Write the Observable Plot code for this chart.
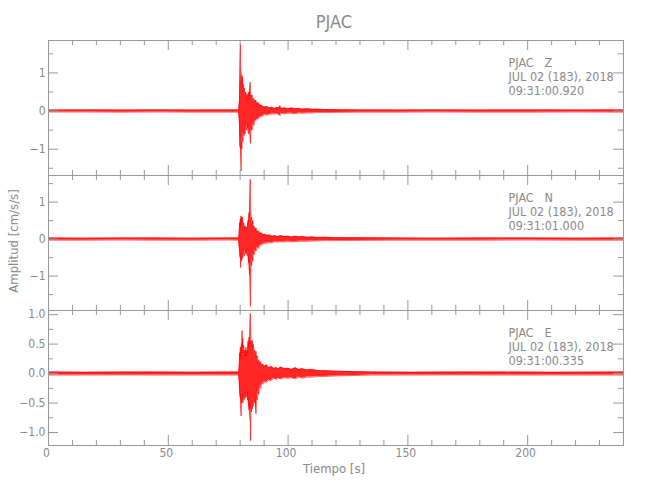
<!DOCTYPE html>
<html>
<head>
<meta charset="utf-8">
<script src="https://cdn.jsdelivr.net/npm/d3@7"></script>
<script src="https://cdn.jsdelivr.net/npm/@observablehq/plot@0.6"></script>
<style>
  body { margin: 0; background: #fff; }
  #chart { position: relative; width: 650px; height: 500px; overflow: hidden;
    font-family: "Liberation Sans Narrow", "DejaVu Sans Condensed", "Liberation Sans", sans-serif;
    font-stretch: condensed; color: #8a8a8a; }
  #chart svg { position: absolute; left: 0; }
  .lbl { position: absolute; white-space: nowrap; color: #8a8a8a; }
</style>
</head>
<body>
<div id="chart"></div>
<script>
// ---------------- data ----------------
const station = "PJAC";
const xLabel = "Tiempo [s]";
const yLabel = "Amplitud [cm/s/s]";
const xMajor = [0, 50, 100, 150, 200];
const xMinor = [10, 20, 30, 40, 60, 70, 80, 90, 110, 120, 130, 140, 160, 170, 180, 190, 210, 220, 230];

// Signal envelope rows: [time (s), upper amplitude, lower amplitude]
const waveZ = [
  [0, .025, -.025], [15, .03, -.025], [30, .025, -.03], [45, .03, -.025], [60, .025, -.03], [75, .03, -.03],
  [79.4, .03, -.03], [79.7, .25, -.3], [79.9, .9, -.95], [80.1, 1.76, -.9], [80.2, 1.2, -1.0], [80.4, 1.0, -1.57],
  [80.55, .7, -.8], [80.7, .95, -1.0], [80.85, .6, -.7], [81.0, .9, -.75], [81.2, .5, -.8], [81.4, .7, -.5],
  [81.6, .45, -.65], [81.8, .6, -.45], [82.0, .4, -.6], [82.3, .5, -.4], [82.6, .35, -.5], [82.9, .45, -.35],
  [83.2, .3, -.45], [83.5, .5, -.6], [83.8, .4, -.45], [84.0, .55, -.55], [84.15, .76, -.6], [84.3, .55, -.85],
  [84.5, .45, -.55], [84.75, .38, -.45], [85.0, .42, -.5], [85.3, .3, -.35], [85.7, .33, -.38], [86.1, .25, -.28],
  [86.6, .28, -.25], [87.1, .2, -.22], [87.6, .22, -.2], [88.2, .15, -.17], [88.8, .16, -.14], [89.5, .12, -.13],
  [90.3, .1, -.09], [91.2, .12, -.11], [92.2, .08, -.09], [93.2, .1, -.08], [94.3, .07, -.08], [95.3, .09, -.07],
  [96.2, .08, -.09], [96.6, .14, -.12], [97.2, .07, -.06], [98.5, .08, -.07], [100, .06, -.06], [101.5, .08, -.06],
  [103, .06, -.07], [104.5, .07, -.05], [106, .05, -.06], [108, .06, -.05], [110, .045, -.05], [112, .05, -.04],
  [115, .04, -.04], [120, .035, -.035], [130, .03, -.03], [145, .025, -.03], [160, .03, -.025], [180, .025, -.03],
  [200, .03, -.03], [220, .025, -.025], [240, .03, -.03]
];
const waveN = [
  [0, .03, -.03], [15, .025, -.03], [30, .03, -.025], [45, .03, -.03], [60, .025, -.03], [75, .03, -.025],
  [79.4, .03, -.03], [79.6, .15, -.2], [79.8, .45, -.35], [79.95, .3, -.5], [80.1, .55, -.4], [80.2, .4, -.77],
  [80.35, .63, -.5], [80.5, .45, -.6], [80.65, .6, -.45], [80.8, .4, -.55], [81.0, .6, -.4], [81.2, .35, -.5],
  [81.5, .45, -.35], [81.8, .3, -.45], [82.1, .36, -.3], [82.4, .25, -.4], [82.7, .33, -.3], [83.0, .3, -.45],
  [83.3, .5, -.4], [83.5, .45, -.65], [83.7, .72, -.6], [83.9, .6, -.95], [84.05, .9, -.8], [84.2, 1.62, -1.3],
  [84.3, 1.1, -1.82], [84.45, .8, -1.0], [84.6, .5, -.6], [84.8, .6, -.72], [85.0, .4, -.5], [85.3, .5, -.6],
  [85.6, .3, -.35], [85.9, .35, -.42], [86.3, .25, -.3], [86.7, .3, -.32], [87.2, .2, -.22], [87.7, .22, -.25],
  [88.3, .15, -.17], [88.9, .17, -.16], [89.6, .12, -.13], [90.4, .13, -.11], [91.3, .1, -.11], [92.3, .11, -.09],
  [93.3, .08, -.1], [94.5, .09, -.07], [95.5, .07, -.08], [97, .09, -.07], [98.5, .07, -.08], [100, .08, -.06],
  [101.5, .06, -.07], [103, .08, -.07], [104.5, .06, -.06], [106, .07, -.06], [108, .05, -.06], [110, .06, -.05],
  [112, .045, -.05], [115, .05, -.04], [120, .04, -.04], [130, .035, -.035], [145, .03, -.03], [160, .025, -.03],
  [180, .03, -.03], [200, .03, -.025], [220, .025, -.03], [240, .03, -.03]
];
const waveE = [
  [0, .025, -.025], [15, .022, -.025], [30, .025, -.022], [45, .025, -.025], [60, .022, -.025], [75, .025, -.025],
  [79.4, .025, -.025], [79.6, .1, -.12], [79.8, .35, -.3], [79.95, .25, -.4], [80.1, .45, -.35], [80.25, .3, -.5],
  [80.4, .4, -.72], [80.55, .5, -.4], [80.7, .35, -.5], [80.8, .73, -.45], [80.95, .45, -.35], [81.1, .6, -.5],
  [81.3, .35, -.42], [81.5, .48, -.35], [81.7, .3, -.45], [81.9, .4, -.3], [82.1, .3, -.42], [82.4, .45, -.35],
  [82.7, .3, -.4], [82.9, .4, -.3], [83.1, .35, -.45], [83.3, .55, -.4], [83.5, .45, -.55], [83.7, .62, -.62],
  [83.9, .5, -.5], [84.05, .6, -.7], [84.25, 1.02, -.8], [84.35, .8, -1.14], [84.5, .5, -.55], [84.7, .56, -.65],
  [84.9, .45, -.5], [85.1, .56, -.6], [85.3, .4, -.45], [85.5, .5, -.55], [85.8, .35, -.4], [86.0, .4, -.5],
  [86.3, .3, -.45], [86.6, .38, -.68], [86.9, .28, -.4], [87.2, .3, -.45], [87.5, .2, -.3], [87.8, .23, -.35],
  [88.2, .17, -.22], [88.6, .2, -.25], [89.0, .14, -.16], [89.5, .16, -.18], [90.2, .12, -.13], [91, .15, -.15],
  [92, .1, -.11], [93, .12, -.12], [94, .09, -.08], [95, .1, -.1], [96, .08, -.08], [97, .11, -.09],
  [98.5, .08, -.07], [100, .09, -.08], [101.5, .07, -.07], [103, .1, -.09], [104.5, .07, -.06], [106, .08, -.08],
  [108, .06, -.06], [110, .07, -.06], [112.5, .05, -.05], [115, .05, -.05], [120, .04, -.04], [125, .035, -.035],
  [135, .025, -.025], [150, .022, -.025], [170, .025, -.022], [190, .025, -.025], [210, .022, -.025], [240, .025, -.025]
];

const panelInfo = [
  ["PJAC   Z", "JUL 02 (183), 2018", "09:31:00.920"],
  ["PJAC   N", "JUL 02 (183), 2018", "09:31:01.000"],
  ["PJAC   E", "JUL 02 (183), 2018", "09:31:00.335"]
];
const yDomains = [[-1.69, 1.85], [-1.93, 1.72], [-1.22, 1.07]];
const yMajors = [[-1, 0, 1], [-1, 0, 1], [-1, -0.5, 0, 0.5, 1]];
const yMinors = [[-1.5, -0.5, 0.5, 1.5], [-1.5, -0.5, 0.5, 1.5], [-0.75, -0.25, 0.25, 0.75]];
const yFormats = [d3.format("d"), d3.format("d"), d3.format(".1f")];

// ---------------- drawing ----------------
const FONT = '"Liberation Sans Narrow", "DejaVu Sans Condensed", "Liberation Sans", sans-serif';
const AX = "#999", TX = "#8a8a8a";
const PT = 40, PH = 135, ML = 48, MR = 27, PW = 650 - ML - MR;
const series = [waveZ, waveN, waveE];
const chart = document.getElementById("chart");

series.forEach((rows, i) => {
  const last = i === 2;
  const data = rows.map(([t, hi, lo]) => ({t, hi, lo}));
  const mt = 6, mb = last ? 40 : 6;
  const marks = [
    Plot.areaY(data, {x: "t", y1: "lo", y2: "hi", fill: "#ff0000", fillOpacity: 0.85, curve: "linear"}),
    Plot.line(data, {x: "t", y: "hi", stroke: "#ff0000", strokeWidth: 0.6}),
    Plot.line(data, {x: "t", y: "lo", stroke: "#ff0000", strokeWidth: 0.6}),
    Plot.frame({stroke: AX}),
    Plot.ruleX(xMajor.slice(1), {insetBottom: PH - 10, stroke: AX}),
    Plot.ruleX(xMajor.slice(1), {insetTop: PH - 10, stroke: AX}),
    Plot.ruleX(xMinor, {insetBottom: PH - 5, stroke: AX}),
    Plot.ruleX(xMinor, {insetTop: PH - 5, stroke: AX}),
    Plot.ruleY(yMajors[i], {insetRight: PW - 10, stroke: AX}),
    Plot.ruleY(yMajors[i], {insetLeft: PW - 10, stroke: AX}),
    Plot.ruleY(yMinors[i], {insetRight: PW - 5, stroke: AX}),
    Plot.ruleY(yMinors[i], {insetLeft: PW - 5, stroke: AX}),
    Plot.axisY(yMajors[i], {tickSize: 0, tickPadding: 3, tickFormat: yFormats[i], label: null, fill: TX, fontSize: 12}),
    Plot.text([panelInfo[i].join("\n")], {frameAnchor: "top-left", dx: 460, dy: 17, lineAnchor: "top",
      lineHeight: 1.12, textAnchor: "start", fill: TX, fontSize: 12.5})
  ];
  if (last) marks.push(Plot.axisX(xMajor, {tickSize: 0, tickPadding: 3, label: null, fill: TX, fontSize: 12, dx: -2}));
  const svg = Plot.plot({
    width: 650, height: PH + mt + mb,
    marginTop: mt, marginBottom: mb, marginLeft: ML, marginRight: MR,
    style: {background: "transparent", overflow: "visible", fontFamily: FONT, fontSize: "12px", color: TX},
    x: {domain: [0, 240], axis: last ? undefined : null},
    y: {domain: yDomains[i]},
    marks
  });
  svg.style.top = (PT + PH * i - mt) + "px";
  chart.appendChild(svg);
});

function addLabel(text, css) {
  const d = document.createElement("div");
  d.className = "lbl";
  d.textContent = text;
  Object.assign(d.style, css);
  chart.appendChild(d);
}
addLabel(station, {left: "0px", width: "668px", top: "12px", textAlign: "center", fontSize: "18px", lineHeight: "20px"});
addLabel(xLabel, {left: "0px", width: "668px", top: "461px", textAlign: "center", fontSize: "13px", lineHeight: "16px"});
addLabel(yLabel, {left: "-86px", width: "200px", top: "233px", textAlign: "center", fontSize: "13px", lineHeight: "16px", transform: "rotate(-90deg)"});
</script>
</body>
</html>
